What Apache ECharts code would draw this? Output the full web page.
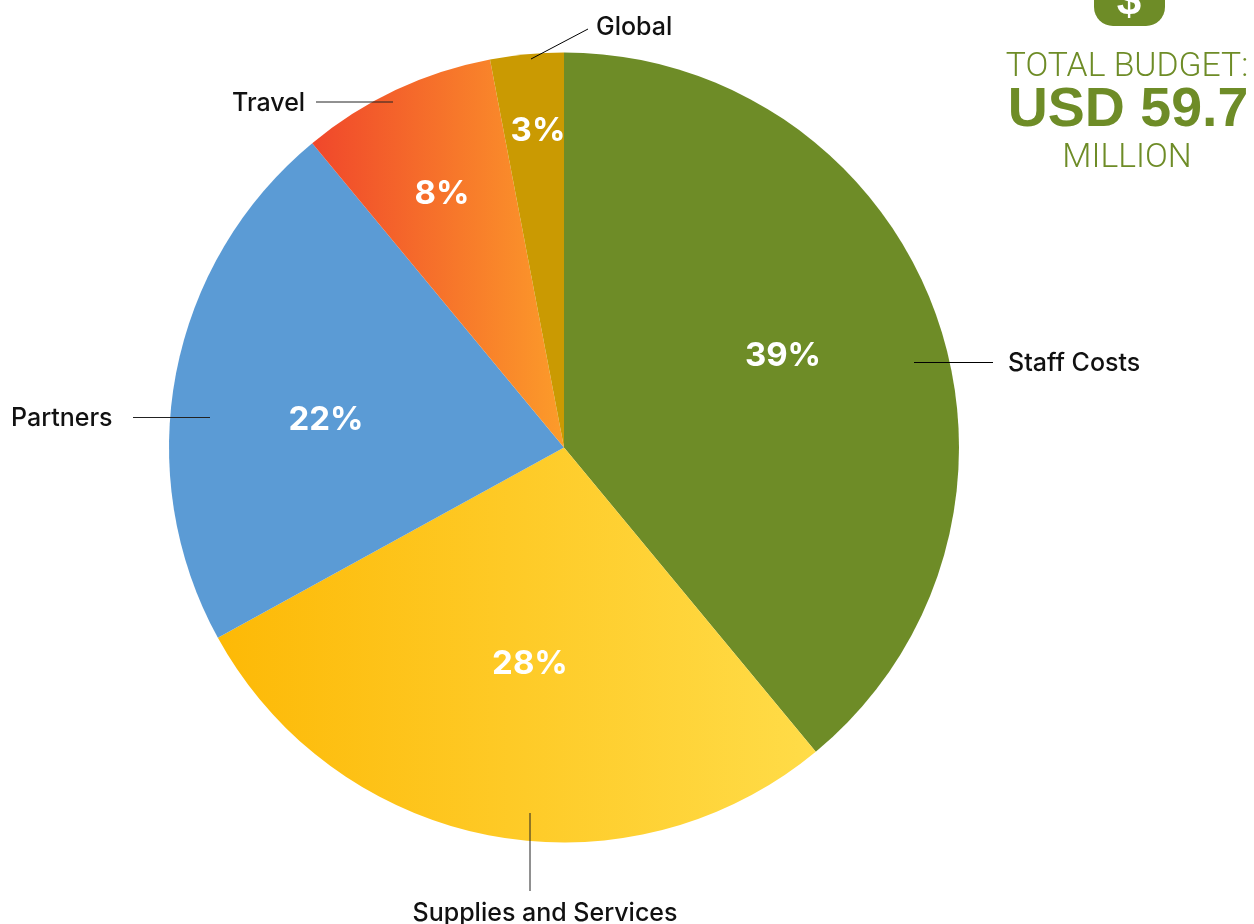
<!DOCTYPE html>
<html>
<head>
<meta charset="utf-8">
<style>html,body{margin:0;padding:0;background:#fff}#chart{width:1254px;height:924px}</style>
<script src="https://cdn.jsdelivr.net/npm/echarts@6/dist/echarts.min.js"></script>
</head>
<body>
<div id="chart"></div>
<script>
// Budget split by cost category, in percent
const categories = ['Staff Costs', 'Supplies and Services', 'Partners', 'Travel', 'Global'];
const shares = [39, 28, 22, 8, 3];
const budgetLines = ['TOTAL BUDGET:', 'USD 59.7', 'MILLION'];

const GREEN = '#6E8C27';
const hGradient = (from, to) => new echarts.graphic.LinearGradient(0, 0, 1, 0, [
  { offset: 0, color: from }, { offset: 1, color: to }
]);
const sliceFills = [
  GREEN,
  hGradient('#FDB906', '#FFDC48'),
  '#5B9BD5',
  hGradient('#F0472B', '#FC9C2A'),
  '#CA9A02'
];

// Where each percentage sits on its slice
const percentAnchors = [[783, 356], [530, 664], [326, 420], [442, 194], [538, 131]];

// Callouts: leader line ends, then the text anchor
const callouts = [
  { line: [914, 362.5, 993, 362.5], stroke: '#000', text: [1008, 363], align: 'left' },
  { line: [530, 813, 530, 891], stroke: '#222', text: [545, 913], align: 'center' },
  { line: [133, 417.5, 210, 417.5], stroke: '#222', text: [11, 418], align: 'left' },
  { line: [316, 102, 393, 102], stroke: '#222', text: [232, 103], align: 'left' },
  { line: [531, 59, 588, 29], stroke: '#000', text: [596, 27], align: 'left' }
];
const CALLOUT_FONT = '500 25px Inter, "Noto Sans", sans-serif';

const graphic = [];
callouts.forEach((c, i) => {
  graphic.push({
    type: 'line', z: 10,
    shape: { x1: c.line[0], y1: c.line[1], x2: c.line[2], y2: c.line[3] },
    style: { stroke: c.stroke, lineWidth: 1 }
  });
  graphic.push({
    type: 'text', z: 10, x: c.text[0], y: c.text[1],
    style: { text: categories[i], font: CALLOUT_FONT, fill: '#111', align: c.align, verticalAlign: 'middle' }
  });
});

// Budget badge, cut off by the top edge of the page
graphic.push({
  type: 'rect', z: 10,
  shape: { x: 1094, y: -45, width: 71, height: 71, r: 19 },
  style: { fill: GREEN }
});
graphic.push({
  type: 'text', z: 11, x: 1129, y: 3,
  style: { text: '$', font: 'bold 44px "Liberation Sans", sans-serif', fill: '#fff', align: 'center', verticalAlign: 'middle' }
});
graphic.push({
  type: 'text', z: 10, x: 1127, y: 68,
  style: { text: budgetLines[0], font: '300 33.7px Roboto, "Liberation Sans", sans-serif', fill: GREEN, align: 'center', verticalAlign: 'middle' }
});
graphic.push({
  type: 'text', z: 10, x: 1128, y: 111,
  style: { text: budgetLines[1], font: 'bold 55.5px "Liberation Sans", sans-serif', fill: GREEN, align: 'center', verticalAlign: 'middle' }
});
graphic.push({
  type: 'text', z: 10, x: 1127, y: 159,
  style: { text: budgetLines[2], font: '300 33.7px Roboto, "Liberation Sans", sans-serif', fill: GREEN, align: 'center', verticalAlign: 'middle' }
});

const chart = echarts.init(document.getElementById('chart'));
chart.setOption({
  animation: false,
  backgroundColor: '#fff',
  graphic,
  series: [{
    type: 'pie',
    center: [564, 447.5],
    radius: [0, 395],
    startAngle: 90,
    clockwise: true,
    silent: true,
    itemStyle: { borderWidth: 0 },
    label: {
      position: 'inside',
      formatter: '{c}%',
      color: '#fff',
      fontFamily: 'Inter, "Noto Sans", sans-serif',
      fontWeight: 700,
      fontSize: 33,
      align: 'center',
      verticalAlign: 'middle'
    },
    labelLine: { show: false },
    labelLayout: (params) => ({ x: percentAnchors[params.dataIndex][0], y: percentAnchors[params.dataIndex][1] }),
    data: categories.map((name, i) => ({ name, value: shares[i], itemStyle: { color: sliceFills[i] } }))
  }]
});
</script>
</body>
</html>
